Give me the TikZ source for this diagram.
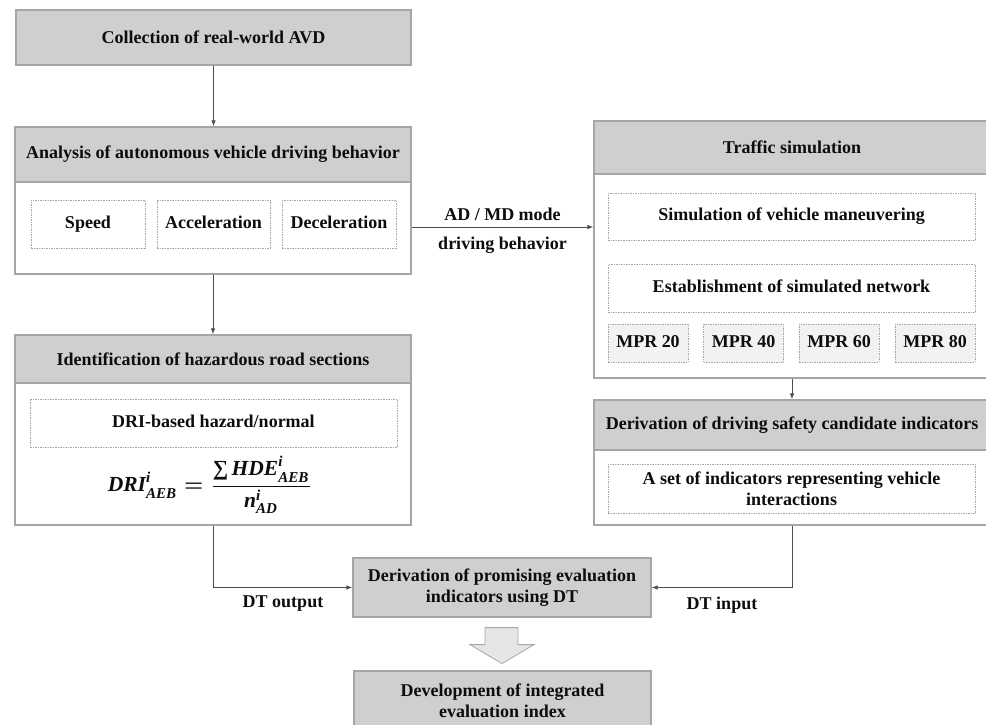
\documentclass[tikz,border=0pt]{standalone}
\usepackage{amsmath}
\usepackage{graphicx}
\usepackage{fontspec}
\setmainfont{Liberation Serif}
\newfontfamily\fbi[BoldItalicFont={* Bold Italic}]{Liberation Serif}
\newcommand{\fv}[1]{\text{\fbi\bfseries\itshape #1}}
\usetikzlibrary{arrows.meta,calc}
\definecolor{hdr}{HTML}{D0CECE}
\definecolor{bord}{HTML}{A6A6A6}
\definecolor{lin}{HTML}{4D4D4D}
\definecolor{txt}{HTML}{0D0D0D}
\definecolor{mprfill}{HTML}{F2F2F2}
\definecolor{blockfill}{HTML}{E7E6E6}
\begin{document}
\begin{tikzpicture}[x=1pt,y=-1pt,
  every node/.style={font=\fontsize{18}{21}\selectfont\bfseries, text=txt, inner sep=0pt, align=center},
  hbox/.style={draw=bord, line width=1.2pt, fill=hdr},
  obox/.style={draw=bord, line width=1.2pt, fill=white},
  dbox/.style={draw=bord, dash pattern=on 1.5pt off 1pt, line width=0.8pt},
  onebox/.style={dbox, text height=12pt, text depth=4pt},
  mprbox/.style={onebox, fill=mprfill, minimum width=80, minimum height=38},
  conn/.style={draw=lin, line width=1pt},
  arr/.style={conn, -{Latex[length=6pt,width=4.5pt]}}]
\useasboundingbox (0,0) rectangle (986,724);

% Collection
\node[hbox, minimum width=395, minimum height=55] (coll) at (213.5,37.5) {Collection of real-world AVD};

% Analysis
\node[obox, minimum width=396, minimum height=147] (ana) at (213,200.5) {};
\node[hbox, minimum width=396, minimum height=55] (anah) at (213,154.5) {Analysis of autonomous vehicle driving behavior};
\node[onebox, minimum width=114, minimum height=48] (spd) at (88,224) {Speed};
\node[onebox, minimum width=113, minimum height=48] (acc) at (213.5,224) {Acceleration};
\node[onebox, minimum width=114, minimum height=48] (dec) at (339,224) {Deceleration};

% Hazard
\node[obox, minimum width=396, minimum height=190] (haz) at (213,430) {};
\node[hbox, minimum width=396, minimum height=48] (hazh) at (213,359) {Identification of hazardous road sections};
\node[onebox, minimum width=367, minimum height=48] (dri) at (213.5,423) {DRI-based hazard/normal};
\node[font=\fontsize{10}{12}\selectfont] (frm) at (210,485) {\scalebox{2.15}{\boldmath$\fv{DRI}^{\fv{i}}_{\fv{AEB}}=\dfrac{\fv{∑\,HDE}^{\fv{i}}_{\fv{AEB}}}{\fv{n}^{\fv{i}}_{\fv{AD}}}$}};

% Traffic simulation
\node[obox, minimum width=396, minimum height=257] (traf) at (792,249.5) {};
\node[hbox, minimum width=396, minimum height=53] (trafh) at (792,147.5) {Traffic simulation};
\node[onebox, minimum width=367, minimum height=47] (sim) at (791.5,216.5) {Simulation of vehicle maneuvering};
\node[onebox, minimum width=367, minimum height=48] (est) at (791.5,288) {Establishment of simulated network};
\node[mprbox] (m20) at (648,343) {MPR 20};
\node[mprbox] (m40) at (743.5,343) {MPR 40};
\node[mprbox] (m60) at (839,343) {MPR 60};
\node[mprbox] (m80) at (935,343) {MPR 80};

% Derivation of candidate indicators
\node[obox, minimum width=396, minimum height=125] (der) at (792,462.5) {};
\node[hbox, minimum width=396, minimum height=50] (derh) at (792,425) {Derivation of driving safety candidate indicators};
\node[dbox, minimum width=367, minimum height=49] (set) at (791.5,488.5) {A set of indicators representing vehicle\\interactions};

% Promising / final
\node[hbox, minimum width=298, minimum height=59] (prom) at (502,587.5) {Derivation of promising evaluation\\indicators using DT};
\node[hbox, minimum width=297, minimum height=59] (fin) at (502.5,700.5) {Development of integrated\\evaluation index};

% Connectors
\draw[arr] (coll.south) -- (coll.south |- ana.north);
\draw[arr] (ana.south) -- (haz.north);
\draw[arr] (ana.east |- 0,227) -- node[above=6pt] (lab1) {AD / MD mode} node[below=10pt] (lab2) {driving behavior} (traf.west |- 0,227);
\draw[arr] (traf.south) -- (der.north);
\draw[arr] (der.south) |- (prom.east);
\draw[arr] (haz.south) |- (prom.west);
\node (dto) at (283,604) {DT output};
\node (dti) at (722,605) {DT input};

% Block arrow
\draw[draw=bord, fill=blockfill, line width=0.8pt]
  ($(prom.south)+(-17,10)$) -- ($(prom.south)+(16,10)$) -- ($(prom.south)+(16,27)$) --
  ($(prom.south)+(32,27)$) -- ($(prom.south)+(0,46)$) -- ($(prom.south)+(-32,27)$) --
  ($(prom.south)+(-17,27)$) -- cycle;
\end{tikzpicture}
\end{document}
